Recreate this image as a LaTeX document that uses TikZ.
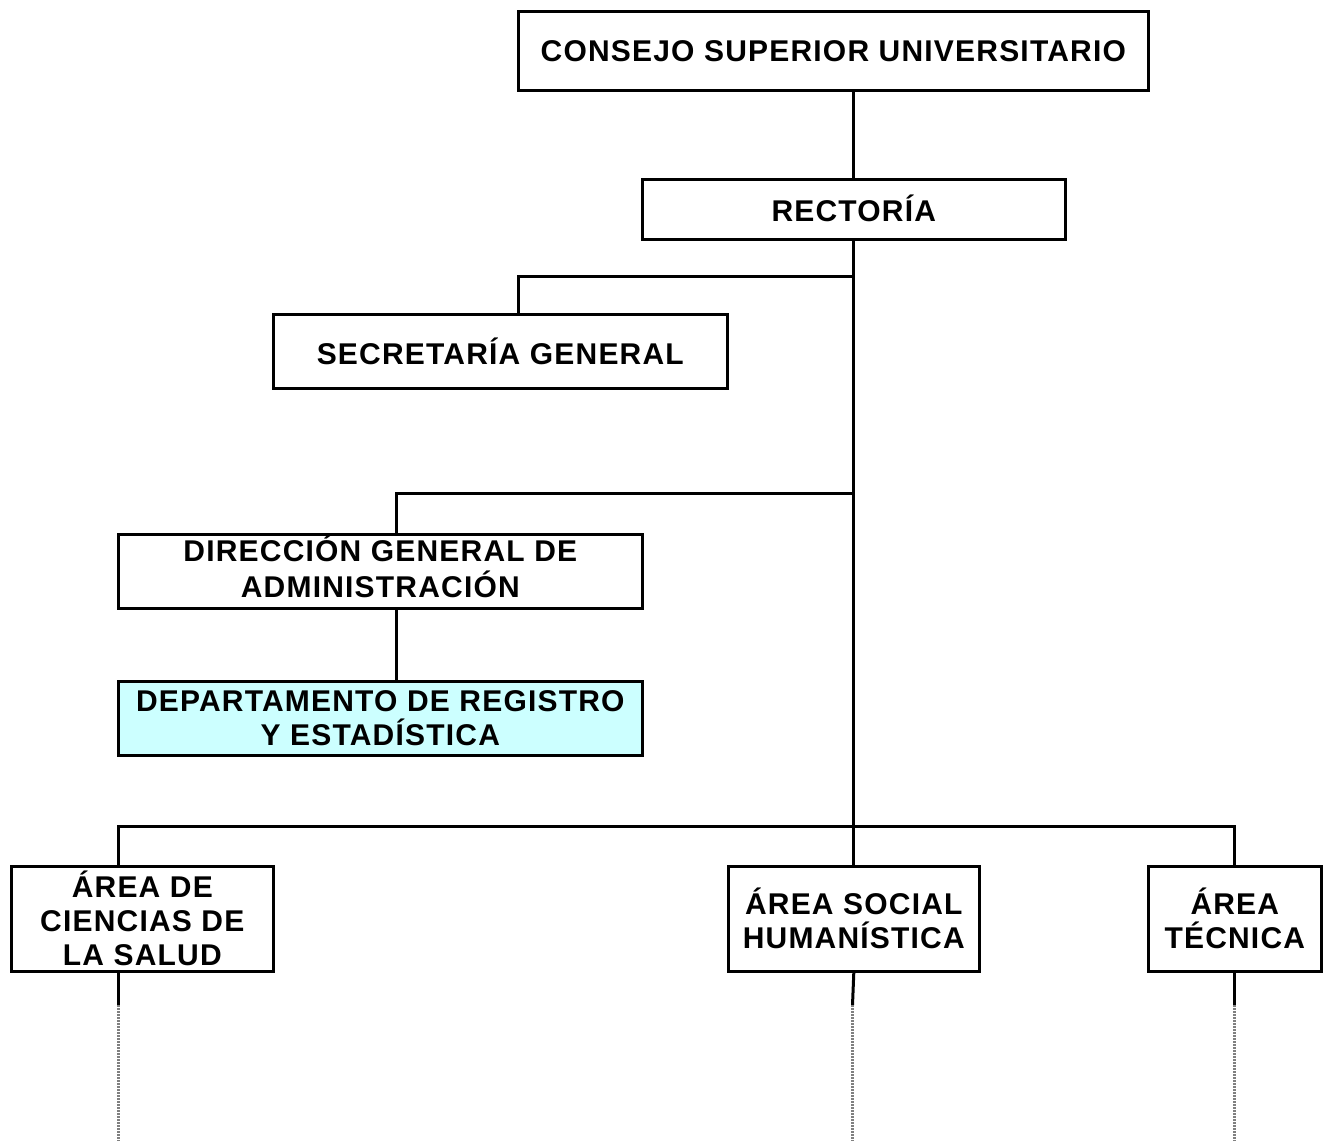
\documentclass[tikz,border=0pt]{standalone}
\usepackage{fontspec}
\setmainfont{Liberation Sans}[LetterSpace=4]
\definecolor{cyanfill}{HTML}{CCFFFF}
\begin{document}
\begin{tikzpicture}[x=1pt,y=-1pt,
  box/.style={draw, line width=2.6pt, align=center, anchor=north west, inner sep=0pt,
    font=\fontsize{30}{34}\selectfont\bfseries},
  conn/.style={line width=3pt},
  cont/.style={line width=3pt, black!50, dash pattern=on 2pt off 1pt}]
\useasboundingbox (0,0) rectangle (1325,1141);

\node[box, minimum width=630pt, minimum height=79pt] (csu) at (517,10) {CONSEJO SUPERIOR UNIVERSITARIO};
\node[box, minimum width=423pt, minimum height=60pt] (rec) at (641,178) {\raisebox{3pt}{RECTORÍA}};
\node[box, minimum width=454pt, minimum height=74pt] (sec) at (272,313) {SECRETARÍA GENERAL};
\node[box, minimum width=524pt, minimum height=74pt] (dir) at (117,533) {\raisebox{1pt}{\begin{tabular}{@{}c@{}}DIRECCIÓN GENERAL DE\\ADMINISTRACIÓN\end{tabular}}};
\node[box, fill=cyanfill, minimum width=524pt, minimum height=74pt] (dep) at (117,680) {DEPARTAMENTO DE REGISTRO\\Y ESTADÍSTICA};
\node[box, minimum width=262pt, minimum height=105pt] (acs) at (10,865) {ÁREA DE\\CIENCIAS DE\\LA SALUD};
\node[box, minimum width=251pt, minimum height=105pt] (ash) at (727,865) {ÁREA SOCIAL\\HUMANÍSTICA};
\node[box, minimum width=173pt, minimum height=105pt] (at) at (1147,865) {ÁREA\\TÉCNICA};

\coordinate (b1) at (852.5,276);
\coordinate (secin) at (518,313);
\coordinate (b2) at (852.5,493);
\coordinate (dirin) at (396,533);
\coordinate (dirout) at (396,607);
\coordinate (depin) at (396,680);
\coordinate (b3) at (852.5,826);
\coordinate (acsin) at (118,865);
\coordinate (atin) at (1234,865);
\coordinate (acsout) at (118,970);
\coordinate (atout) at (1234,970);
\coordinate (acs1) at (118,1005);
\coordinate (ash1) at (852.5,1005);
\coordinate (at1) at (1234,1005);
\coordinate (acs2) at (118,1141);
\coordinate (ash2) at (852.5,1141);
\coordinate (at2) at (1234,1141);

\draw[conn] (rec.north) -- (rec.north |- csu.south);
\draw[conn] (rec.south) -- (ash.north);
\draw[conn] (b1) -| (secin);
\draw[conn] (b2) -| (dirin);
\draw[conn] (dirout) -- (depin);
\draw[conn] (acsin) |- (b3) -| (atin);
\draw[conn] (acsout) -- (acs1);
\draw[conn] (ash.south) -- (ash1);
\draw[conn] (atout) -- (at1);
\draw[cont] (acs1) -- (acs2);
\draw[cont] (ash1) -- (ash2);
\draw[cont] (at1) -- (at2);
\end{tikzpicture}
\end{document}
